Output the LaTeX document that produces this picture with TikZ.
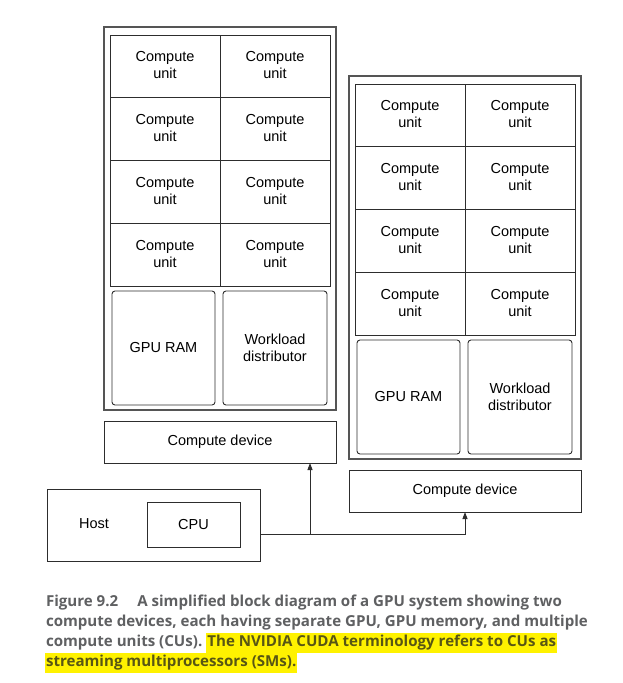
\documentclass[tikz,border=0pt]{standalone}
\usepackage{fontspec}
\setmainfont{Liberation Sans}
\newfontfamily\capfont{Open Sans}
\usetikzlibrary{arrows.meta,positioning}
\definecolor{capgray}{RGB}{95,96,98}
\definecolor{hlyellow}{RGB}{255,242,0}
\definecolor{hltext}{RGB}{88,86,20}
\definecolor{linec}{RGB}{45,45,45}
\definecolor{outc}{RGB}{85,85,85}
\begin{document}
\begin{tikzpicture}[x=1pt,y=-1pt,
  every node/.style={font=\fontsize{14.5}{17}\selectfont, align=center, inner sep=0pt, outer sep=0pt},
  outerbox/.style={draw=outc, line width=1.1pt, anchor=north west},
  cubox/.style={draw=linec, line width=0.9pt, anchor=north west, minimum width=110pt, minimum height=62.75pt, text depth=2pt},
  rambox/.style={draw=linec, line width=0.9pt, rounded corners=3pt, anchor=north west, minimum width=103pt, minimum height=114pt},
  cdbox/.style={draw=linec, line width=0.9pt, anchor=north west, minimum width=232pt, minimum height=42pt},
  conn/.style={draw=linec, line width=0.9pt},
  arr/.style={conn, -{Triangle[length=7pt,width=5pt]}},
  captxt/.style={font=\capfont\bfseries\fontsize{15.1}{20}\selectfont, text=capgray, anchor=base west},
  hltxt/.style={captxt, fill=hlyellow, text=hltext, text height=13.5pt, text depth=6.5pt, inner xsep=1pt}
]
\useasboundingbox (0,0) rectangle (622,683);

\foreach \pre/\dx/\dy in {L-/0/0, R-/245/49}{
  \begin{scope}[shift={(\dx,\dy)}, name prefix=\pre]
    \node[outerbox, minimum width=232pt, minimum height=383pt] (outer) at (104,27) {};
    \foreach \r in {0,1,2,3}{
      \foreach \c in {0,1}{
        \node[cubox] (cu-\r-\c) at ({110+110*\c},{35+62.75*\r}) {Compute\\unit};
      }
    }
    \node[rambox] (ram) at (112,291) {GPU RAM};
    \node[rambox, minimum width=104pt] (wd) at (223,291) {Workload\\distributor};
    \node[cdbox] (cd) at (104,421) {Compute device};
  \end{scope}
}

\node[draw=linec, line width=0.9pt, anchor=north west, minimum width=213pt, minimum height=72pt] (host) at (47,489) {};
\node (hostlbl) at (94,524) {Host};
\node[draw=linec, line width=0.9pt, anchor=north west, minimum width=93pt, minimum height=45pt] (cpu) at (147,502) {CPU};

\coordinate (j) at (310,534);
\draw[arr] (host.east |- j) -| (R-cd.south);
\draw[arr] (j) -- (L-cd.south -| j);

% caption
\node[captxt] (c1a) at (46,606.7) {Figure 9.2};
\node[captxt] (c1b) at ([xshift=19pt]c1a.base east) {A simplified block diagram of a GPU system showing two};
\node[captxt] (c2) at (46,626.7) {compute devices, each having separate GPU, GPU memory, and multiple};
\node[captxt] (c3a) at (46,646.7) {compute units (CUs).};
\node[hltxt] (c3b) at ([xshift=4pt]c3a.base east) {The NVIDIA CUDA terminology refers to CUs as};
\node[hltxt] (c4) at (45,666.7) {streaming multiprocessors (SMs).};
\end{tikzpicture}
\end{document}
